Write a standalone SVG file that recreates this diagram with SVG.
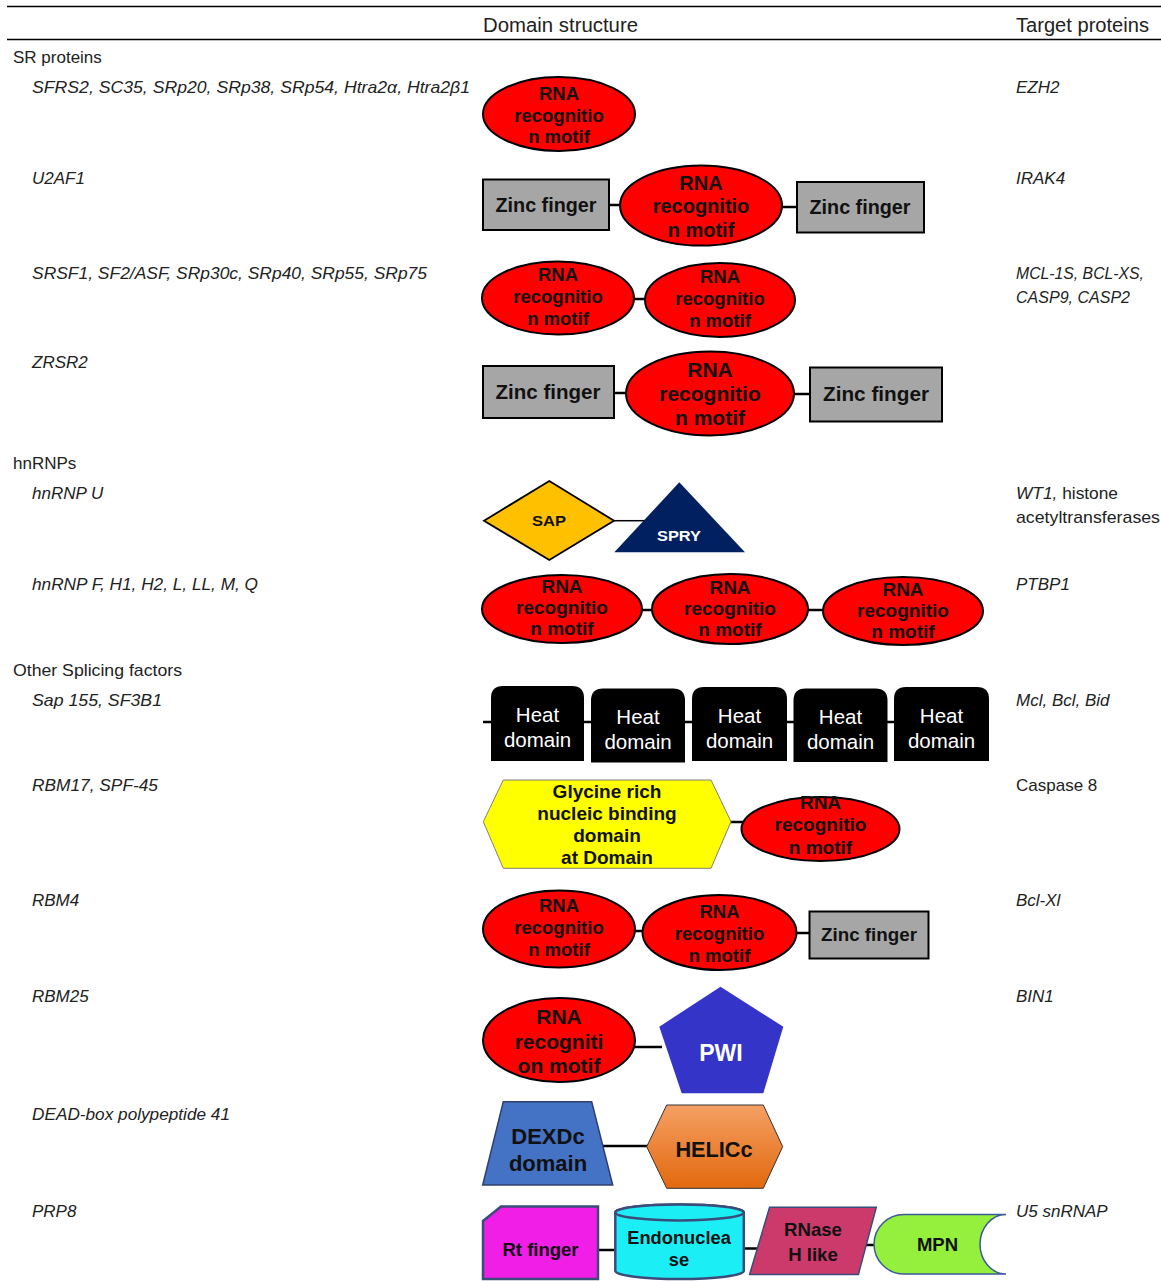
<svg xmlns="http://www.w3.org/2000/svg" width="1161" height="1281" viewBox="0 0 1161 1281">
<defs>
<linearGradient id="orangeGrad" x1="0" y1="0" x2="0" y2="1">
<stop offset="0" stop-color="#F5A064"/>
<stop offset="1" stop-color="#E2690E"/>
</linearGradient>
<style>
.hdr{font-family:"Liberation Sans",Arial,sans-serif;font-size:20px;fill:#222}
.lbl{font-family:"Liberation Sans",Arial,sans-serif;font-size:17px;fill:#222}
.it{font-style:italic}
.rrm{fill:#FF0000;stroke:#000;stroke-width:2}
.zinc{fill:#A6A6A6;stroke:#000;stroke-width:2}
.heat{fill:#000}
.b{font-family:"Liberation Sans",Arial,sans-serif;font-weight:bold;fill:#111;text-anchor:middle}
.w{font-family:"Liberation Sans",Arial,sans-serif;fill:#fff;text-anchor:middle}
.con line{stroke:#000;stroke-width:2.5}
.rule{stroke:#000;stroke-width:1.3}
.blueedge{stroke:#3A4C7A;stroke-width:2.5}
</style>
</defs>
<rect width="1161" height="1281" fill="#fff"/>

<g id="header">
<line class="rule" x1="7" y1="6.5" x2="1161" y2="6.5"/>
<line class="rule" x1="7" y1="39.5" x2="1161" y2="39.5"/>
<text class="hdr" x="483" y="32" textLength="155" lengthAdjust="spacingAndGlyphs">Domain structure</text>
<text class="hdr" x="1016" y="32" textLength="133" lengthAdjust="spacingAndGlyphs">Target proteins</text>
</g>

<g id="labels">
<text class="lbl" x="13" y="63">SR proteins</text>
<text class="lbl it" x="32" y="93" textLength="438" lengthAdjust="spacingAndGlyphs">SFRS2, SC35, SRp20, SRp38, SRp54, Htra2α, Htra2β1</text>
<text class="lbl it" x="32" y="184">U2AF1</text>
<text class="lbl it" x="32" y="279" textLength="395" lengthAdjust="spacingAndGlyphs">SRSF1, SF2/ASF, SRp30c, SRp40, SRp55, SRp75</text>
<text class="lbl it" x="32" y="368">ZRSR2</text>
<text class="lbl" x="13" y="469">hnRNPs</text>
<text class="lbl it" x="32" y="499">hnRNP U</text>
<text class="lbl it" x="32" y="590" textLength="226" lengthAdjust="spacingAndGlyphs">hnRNP F, H1, H2, L, LL, M, Q</text>
<text class="lbl" x="13" y="676" textLength="169" lengthAdjust="spacingAndGlyphs">Other Splicing factors</text>
<text class="lbl it" x="32" y="706" textLength="130" lengthAdjust="spacingAndGlyphs">Sap 155, SF3B1</text>
<text class="lbl it" x="32" y="791" textLength="126" lengthAdjust="spacingAndGlyphs">RBM17, SPF-45</text>
<text class="lbl it" x="32" y="906">RBM4</text>
<text class="lbl it" x="32" y="1002">RBM25</text>
<text class="lbl it" x="32" y="1120" textLength="198" lengthAdjust="spacingAndGlyphs">DEAD-box polypeptide 41</text>
<text class="lbl it" x="32" y="1217">PRP8</text>
</g>

<g id="targets">
<text class="lbl it" x="1016" y="93">EZH2</text>
<text class="lbl it" x="1016" y="184">IRAK4</text>
<text class="lbl it" x="1016" y="279" textLength="128" lengthAdjust="spacingAndGlyphs">MCL-1S, BCL-XS,</text>
<text class="lbl it" x="1016" y="303" textLength="114" lengthAdjust="spacingAndGlyphs">CASP9, CASP2</text>
<text class="lbl" x="1016" y="499" textLength="102" lengthAdjust="spacingAndGlyphs"><tspan class="it">WT1,</tspan> histone</text>
<text class="lbl" x="1016" y="523" textLength="144" lengthAdjust="spacingAndGlyphs">acetyltransferases</text>
<text class="lbl it" x="1016" y="590">PTBP1</text>
<text class="lbl it" x="1016" y="706">Mcl, Bcl, Bid</text>
<text class="lbl" x="1016" y="791">Caspase 8</text>
<text class="lbl it" x="1016" y="906">Bcl-Xl</text>
<text class="lbl it" x="1016" y="1002">BIN1</text>
<text class="lbl it" x="1016" y="1217">U5 snRNAP</text>
</g>

<g id="connectors" class="con">
<line x1="609" y1="205" x2="621" y2="205"/>
<line x1="781" y1="207" x2="798" y2="207"/>
<line x1="633" y1="299" x2="646" y2="299"/>
<line x1="613" y1="393" x2="627" y2="393"/>
<line x1="793" y1="394" x2="811" y2="394"/>
<line x1="614" y1="520.7" x2="645" y2="520.7" style="stroke-width:1.5"/>
<line x1="641" y1="610" x2="653" y2="610"/>
<line x1="807" y1="610" x2="824" y2="610"/>
<line x1="483" y1="722" x2="900" y2="722"/>
<line x1="730" y1="822" x2="743" y2="822"/>
<line x1="634" y1="931" x2="644" y2="931"/>
<line x1="795" y1="933" x2="810" y2="933"/>
<line x1="634" y1="1047" x2="662" y2="1047"/>
<line x1="602" y1="1146" x2="648" y2="1146"/>
<line x1="597" y1="1250" x2="616" y2="1250"/>
<line x1="743" y1="1248.5" x2="762" y2="1248.5"/>
<line x1="864" y1="1245" x2="876" y2="1245"/>
</g>

<g id="sr1-rrm">
<ellipse class="rrm" cx="559" cy="114" rx="76" ry="37"/>
<text class="b" font-size="18.5"><tspan x="559" y="100">RNA</tspan><tspan x="559" y="121.5">recognitio</tspan><tspan x="559" y="143">n motif</tspan></text>
</g>

<g id="u2af1-zf1">
<rect class="zinc" x="483" y="179.5" width="126" height="50.5"/>
<text class="b" font-size="20" x="546" y="212" textLength="101" lengthAdjust="spacingAndGlyphs">Zinc finger</text>
</g>
<g id="u2af1-rrm">
<ellipse class="rrm" cx="701" cy="205.5" rx="81" ry="40"/>
<text class="b" font-size="20"><tspan x="701" y="190">RNA</tspan><tspan x="701" y="213">recognitio</tspan><tspan x="701" y="237">n motif</tspan></text>
</g>
<g id="u2af1-zf2">
<rect class="zinc" x="797" y="182" width="127" height="50.5"/>
<text class="b" font-size="20" x="860" y="214" textLength="101" lengthAdjust="spacingAndGlyphs">Zinc finger</text>
</g>

<g id="srsf1-rrm1">
<ellipse class="rrm" cx="558" cy="298" rx="76" ry="36.5"/>
<text class="b" font-size="18.5"><tspan x="558" y="281">RNA</tspan><tspan x="558" y="302.5">recognitio</tspan><tspan x="558" y="324.5">n motif</tspan></text>
</g>
<g id="srsf1-rrm2">
<ellipse class="rrm" cx="720" cy="300" rx="75" ry="37"/>
<text class="b" font-size="18.5"><tspan x="720" y="283">RNA</tspan><tspan x="720" y="304.5">recognitio</tspan><tspan x="720" y="326.5">n motif</tspan></text>
</g>

<g id="zrsr2-zf1">
<rect class="zinc" x="483" y="366" width="131" height="52"/>
<text class="b" font-size="20.7" x="548" y="399" textLength="105" lengthAdjust="spacingAndGlyphs">Zinc finger</text>
</g>
<g id="zrsr2-rrm">
<ellipse class="rrm" cx="710" cy="393.5" rx="84" ry="42"/>
<text class="b" font-size="21"><tspan x="710" y="377">RNA</tspan><tspan x="710" y="401">recognitio</tspan><tspan x="710" y="425">n motif</tspan></text>
</g>
<g id="zrsr2-zf2">
<rect class="zinc" x="810" y="367.5" width="132" height="54"/>
<text class="b" font-size="20.7" x="876" y="401" textLength="106" lengthAdjust="spacingAndGlyphs">Zinc finger</text>
</g>

<g id="hnrnpu-sap">
<polygon points="484,520.7 549.3,481 614,520.7 549.3,560" fill="#FFC000" stroke="#000" stroke-width="1.8"/>
<text class="b" font-size="14" x="549" y="526" textLength="34" lengthAdjust="spacingAndGlyphs">SAP</text>
</g>
<g id="hnrnpu-spry">
<polygon points="679.3,482.3 745,552.3 614.3,552.3" fill="#002060"/>
<text class="w" font-weight="bold" font-size="14" x="679" y="540.5" textLength="44" lengthAdjust="spacingAndGlyphs">SPRY</text>
</g>

<g id="hnrnpf-rrm1">
<ellipse class="rrm" cx="562" cy="609" rx="80" ry="34"/>
<text class="b" font-size="19"><tspan x="562" y="593">RNA</tspan><tspan x="562" y="614">recognitio</tspan><tspan x="562" y="635">n motif</tspan></text>
</g>
<g id="hnrnpf-rrm2">
<ellipse class="rrm" cx="730" cy="609" rx="78" ry="35"/>
<text class="b" font-size="19"><tspan x="730" y="594">RNA</tspan><tspan x="730" y="615">recognitio</tspan><tspan x="730" y="636">n motif</tspan></text>
</g>
<g id="hnrnpf-rrm3">
<ellipse class="rrm" cx="903" cy="611" rx="80" ry="34"/>
<text class="b" font-size="19"><tspan x="903" y="596">RNA</tspan><tspan x="903" y="617">recognitio</tspan><tspan x="903" y="638">n motif</tspan></text>
</g>

<g id="heat1">
<path class="heat" d="M491,761 V698 Q491,686 503,686 H572 Q584,686 584,698 V761 Z"/>
<text class="w" font-size="20.5"><tspan x="537.5" y="722">Heat</tspan><tspan x="537.5" y="747">domain</tspan></text>
</g>
<g id="heat2">
<path class="heat" d="M591,762.5 V700.5 Q591,688.5 603,688.5 H673 Q685,688.5 685,700.5 V762.5 Z"/>
<text class="w" font-size="20.5"><tspan x="638" y="724">Heat</tspan><tspan x="638" y="749">domain</tspan></text>
</g>
<g id="heat3">
<path class="heat" d="M692,761 V699 Q692,687 704,687 H775 Q787,687 787,699 V761 Z"/>
<text class="w" font-size="20.5"><tspan x="739.5" y="722.5">Heat</tspan><tspan x="739.5" y="747.5">domain</tspan></text>
</g>
<g id="heat4">
<path class="heat" d="M793.5,762 V700.5 Q793.5,688.5 805.5,688.5 H875.5 Q887.5,688.5 887.5,700.5 V762 Z"/>
<text class="w" font-size="20.5"><tspan x="840.5" y="724">Heat</tspan><tspan x="840.5" y="749">domain</tspan></text>
</g>
<g id="heat5">
<path class="heat" d="M894,761 V699 Q894,687 906,687 H977 Q989,687 989,699 V761 Z"/>
<text class="w" font-size="20.5"><tspan x="941.5" y="722.5">Heat</tspan><tspan x="941.5" y="747.5">domain</tspan></text>
</g>

<g id="rbm17-glycine">
<polygon points="483.3,821.7 503.3,780 711,780 731,821.7 711,868.3 503.3,868.3" fill="#FFFF00" stroke="#7F7F7F" stroke-width="1"/>
<text class="b" font-size="19"><tspan x="607" y="798">Glycine rich</tspan><tspan x="607" y="820">nucleic binding</tspan><tspan x="607" y="842">domain</tspan><tspan x="607" y="864">at Domain</tspan></text>
</g>
<g id="rbm17-rrm">
<ellipse class="rrm" cx="820.5" cy="829" rx="79" ry="32"/>
<text class="b" font-size="19"><tspan x="820.5" y="809">RNA</tspan><tspan x="820.5" y="831">recognitio</tspan><tspan x="820.5" y="854">n motif</tspan></text>
</g>

<g id="rbm4-rrm1">
<ellipse class="rrm" cx="559" cy="929" rx="76" ry="38.5"/>
<text class="b" font-size="18.5"><tspan x="559" y="912">RNA</tspan><tspan x="559" y="934">recognitio</tspan><tspan x="559" y="956">n motif</tspan></text>
</g>
<g id="rbm4-rrm2">
<ellipse class="rrm" cx="719.5" cy="932.5" rx="77" ry="37.5"/>
<text class="b" font-size="18.5"><tspan x="719.5" y="918">RNA</tspan><tspan x="719.5" y="940">recognitio</tspan><tspan x="719.5" y="962">n motif</tspan></text>
</g>
<g id="rbm4-zf">
<rect class="zinc" x="809.5" y="911.5" width="119" height="47"/>
<text class="b" font-size="18.8" x="869" y="941" textLength="96" lengthAdjust="spacingAndGlyphs">Zinc finger</text>
</g>

<g id="rbm25-rrm">
<ellipse class="rrm" cx="559" cy="1040" rx="76" ry="42"/>
<text class="b" font-size="21"><tspan x="559" y="1024">RNA</tspan><tspan x="559" y="1049">recogniti</tspan><tspan x="559" y="1073">on motif</tspan></text>
</g>
<g id="rbm25-pwi">
<polygon points="720.5,986.7 783.3,1026.7 763.3,1093.3 681.7,1093.3 659.3,1026.7" fill="#3434C8"/>
<text class="w" font-weight="bold" font-size="23" x="721" y="1061">PWI</text>
</g>

<g id="ddx41-dexdc">
<polygon points="503.3,1101.7 591.7,1101.7 612.7,1185 482.7,1185" fill="#4472C4" stroke="#2F3F6F" stroke-width="1.5"/>
<text class="b" font-size="22"><tspan x="548" y="1144">DEXDc</tspan><tspan x="548" y="1171">domain</tspan></text>
</g>
<g id="ddx41-helicc">
<polygon points="646.7,1146.7 666.7,1105 763.3,1105 782.7,1146.7 763.3,1188.3 666.7,1188.3" fill="url(#orangeGrad)" stroke="#333" stroke-width="1"/>
<text class="b" font-size="21.7" x="714" y="1157">HELICc</text>
</g>

<g id="prp8-rtfinger">
<polygon class="blueedge" points="483,1221 501,1206.5 598,1206.5 598,1279 483,1279" fill="#F01EE6"/>
<text class="b" font-size="18.5" x="540.5" y="1256">Rt finger</text>
</g>
<g id="prp8-endonuclease">
<path class="blueedge" d="M615.3,1212.4 V1271 A64.25,8 0 0 0 743.8,1271 V1212.4 A64.25,8 0 0 0 615.3,1212.4 Z" fill="#1CEEF6"/>
<ellipse class="blueedge" cx="679.5" cy="1212.4" rx="64.25" ry="8" fill="#1CEEF6"/>
<text class="b" font-size="18.3"><tspan x="679" y="1244">Endonuclea</tspan><tspan x="679" y="1266">se</tspan></text>
</g>
<g id="prp8-rnase">
<polygon points="769.6,1207.2 876.3,1207.2 858.4,1274.4 749.6,1274.4" fill="#CC3A6C" stroke="#3A4C7A" stroke-width="1.5"/>
<text class="b" font-size="18.6"><tspan x="813" y="1236">RNase</tspan><tspan x="813" y="1261">H like</tspan></text>
</g>
<g id="prp8-mpn">
<path d="M904,1214.5 H1006 A26,29.75 0 0 0 1006,1274 H904 A30,29.75 0 0 1 904,1214.5 Z" fill="#94F03C" stroke="#3A5A9A" stroke-width="1.5"/>
<text class="b" font-size="18.5" x="937.5" y="1251">MPN</text>
</g>
</svg>
